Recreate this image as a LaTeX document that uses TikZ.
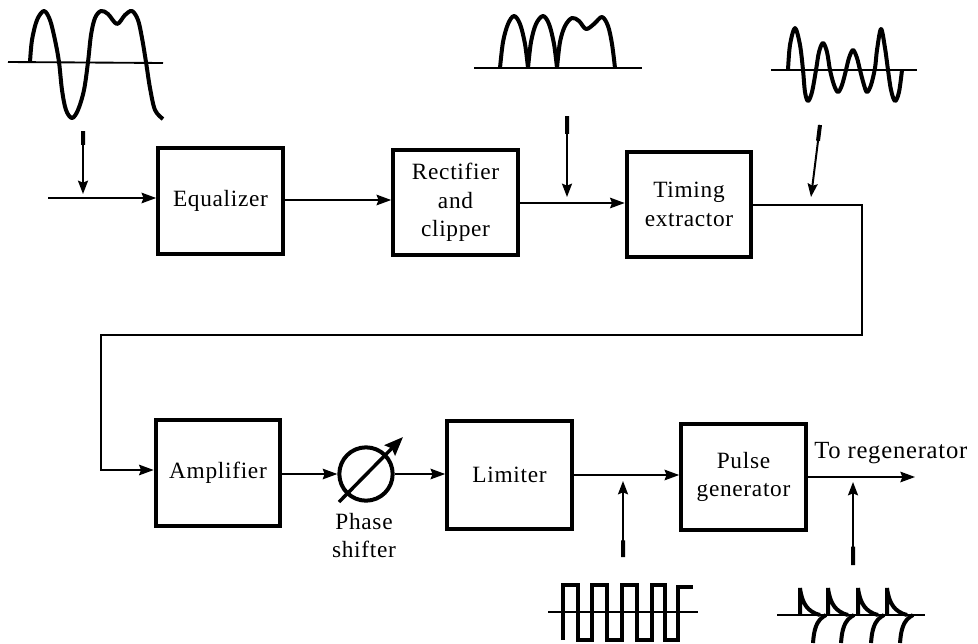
\documentclass[tikz,border=0pt]{standalone}
\usepackage{fontspec}
\setmainfont[LetterSpace=3]{Liberation Serif}
\usetikzlibrary{arrows.meta,calc}
\tikzset{
 blockbox/.style={draw,line width=3pt,minimum width=93.5pt,align=center,inner sep=0pt,font=\fontsize{17.5}{21.5}\selectfont},
 wire/.style={line width=1pt},
 flow/.style={wire,-{Stealth[length=11pt,width=8pt,inset=1.5pt]}},
 probe/.style={line width=1.5pt,-{Stealth[length=10pt,width=7.5pt,inset=1.5pt]}},
 probetail/.style={line width=3pt},
 wave/.style={line width=3pt,line join=round},
 axis/.style={line width=1.4pt},
 caption/.style={font=\fontsize{17.5}{21}\selectfont,align=center,inner sep=0pt}
}
\begin{document}
\begin{tikzpicture}[x=0.75pt,y=-0.75pt]
\useasboundingbox (0,0) rectangle (978,643);
% blocks
\node[blockbox,minimum height=79pt] (eq) at (220.5,201) {Equalizer};
\node[blockbox,minimum height=79pt] (rc) at (455.5,202.5) {Rectifier\\and\\clipper};
\node[blockbox,minimum height=79pt] (tm) at (689,204.5) {Timing\\extractor};
\node[blockbox,minimum height=80pt] (am) at (218,473) {Amplifier};
\node[blockbox,minimum height=81pt] (li) at (509.5,475) {Limiter};
\node[blockbox,minimum height=80pt] (pg) at (743.5,477) {Pulse\\generator};
\node[draw,circle,line width=3pt,minimum size=40pt,inner sep=0pt] (ps) at (366,474) {};
\node[caption] (pst) at (364,536) {Phase\\shifter};
\node[caption,anchor=west,font=\fontsize{18.5}{21}\selectfont] (tr) at (814,453) {To regenerator};
% free ends
\coordinate (in) at (48,198);
\coordinate (out) at (915,477);
\coordinate (a1) at (83,131); \coordinate (a1e) at (83,194);
\coordinate (a2) at (567,116); \coordinate (a2e) at (567,197);
\coordinate (a3) at (820,125); \coordinate (a3e) at (811,197);
\coordinate (a4) at (623,557); \coordinate (a4e) at (623,481);
\coordinate (a5) at (853,565); \coordinate (a5e) at (853,482);
\coordinate (psa) at (339,502); \coordinate (psb) at (403,437);
% connectors
\draw[flow] (in) -- (eq.west |- in);
\draw[flow] (eq.east |- 0,200) -- (rc.west |- 0,200);
\draw[flow] (rc.east |- 0,203) -- (tm.west |- 0,203);
\draw[flow] (tm.east |- 0,205) -- (862,205) -- (862,335) -- (101,335) -- (101,470) -- (am.west |- 0,470);
\draw[flow] (am.east |- ps.west) -- (ps.west);
\draw[flow] (ps.east) -- (li.west |- ps.east);
\draw[flow] (li.east |- 0,475) -- (pg.west |- 0,475);
\draw[flow] (pg.east |- out) -- (out);
\draw[line width=2.6pt,-{Stealth[length=14pt,width=11pt,inset=2pt]}] (psa) -- (psb);
% probes
\foreach \s/\e in {a1/a1e,a2/a2e,a3/a3e,a4/a4e,a5/a5e}{
  \draw[probe] (\s) -- (\e);
  \draw[probetail] (\s) -- ($(\s)!0.22!(\e)$);
}
% waveform 1
\draw[axis] (8,62) -- (163,63);
\draw[wave] plot[smooth,tension=0.55] coordinates {(30,62) (32,40) (37,20) (44,11) (50,20) (55,40) (59,62) (62,90) (66,110) (72,118) (78,110) (84,90) (88,62) (91,35) (95,18) (101,11) (108,14) (117,24) (125,15) (132,11) (138,20) (142,38) (146,62) (150,88) (155,110) (163,119)};
% waveform 2
\draw[axis] (474,68) -- (642,68);
\draw[wave] plot[smooth,tension=0.55] coordinates {(500,68) (503,42) (508,24) (514,16) (520,24) (525,44) (528,68)};
\draw[wave] plot[smooth,tension=0.55] coordinates {(528,68) (531,42) (536,24) (543,16) (549,24) (554,44) (557,68)};
\draw[wave] plot[smooth,tension=0.55] coordinates {(557,68) (560,42) (565,26) (572,18) (579,21) (586,29) (594,24) (602,17) (608,26) (612,44) (615,68)};
% waveform 3
\draw[axis] (771,70) -- (917,70);
\draw[wave] plot[smooth,tension=0.55] coordinates {(788,70) (790,45) (795,28) (800,45) (803,70) (805,92) (808,101) (812,92) (816,70) (819,52) (823,43) (827,52) (830,70) (834,85) (838,92) (842,85) (846,70) (849,58) (853,50) (857,58) (860,70) (864,85) (867,92) (871,85) (875,68) (877,50) (881,29) (885,48) (888,70) (891,90) (895,101) (899,92) (902,70)};
% square wave
\draw[axis] (548,612) -- (698,612);
\draw[line width=2.6pt,line join=miter] (563,640) -- (563,585) -- (578,585) -- (578,640) -- (592,640) -- (592,585) -- (607,585) -- (607,640) -- (622,640) -- (622,585) -- (637,585) -- (637,640) -- (652,640) -- (652,585) -- (665,585) -- (665,640) -- (678,640) -- (678,587) -- (693,587);
% spiky wave
\draw[axis] (777,615) -- (925,615);
\foreach \x in {800,828,858,887}{
  \draw[line width=3pt] (\x,615) -- (\x,588) .. controls (\x+2,604) and (\x+8,612) .. (\x+20,615);
  \draw[line width=3pt] (\x+13,643) .. controls (\x+14,630) and (\x+16,620) .. (\x+26,615);
}
\end{tikzpicture}
\end{document}
